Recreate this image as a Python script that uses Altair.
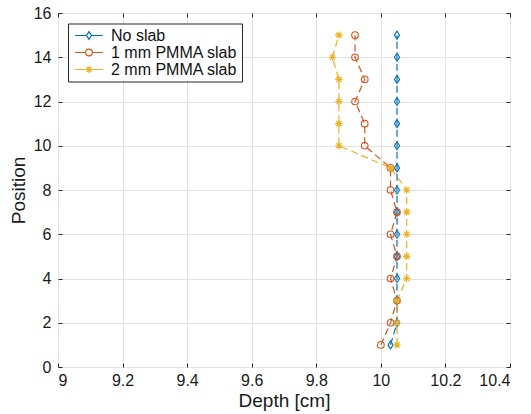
import altair as alt
import pandas as pd

# ---- data ----
positions = list(range(1, 16))
no_slab = [10.03, 10.05, 10.05, 10.05, 10.05, 10.05, 10.05, 10.05,
           10.05, 10.05, 10.05, 10.05, 10.05, 10.05, 10.05]
pmma_1mm = [10.00, 10.03, 10.05, 10.03, 10.05, 10.03, 10.05, 10.03,
            10.03, 9.95, 9.95, 9.92, 9.95, 9.92, 9.92]
pmma_2mm = [10.05, 10.05, 10.05, 10.08, 10.08, 10.08, 10.08, 10.08,
            10.03, 9.87, 9.87, 9.87, 9.87, 9.85, 9.87]
series_names = ["No slab", "1 mm PMMA slab", "2 mm PMMA slab"]
series_values = [no_slab, pmma_1mm, pmma_2mm]
series_colors = ["#0072BD", "#D95319", "#EDB120"]
x_ticks = [9, 9.2, 9.4, 9.6, 9.8, 10, 10.2, 10.4]
y_ticks = [0, 2, 4, 6, 8, 10, 12, 14, 16]

# ---- styles ----
FONT = "Liberation Sans"
W, H = 452, 354
marker_paths = [
    "M0,-1L0.65,0L0,1L-0.65,0Z",
    "circle",
    "M-1,0L1,0M0,-1L0,1M-0.7,-0.7L0.7,0.7M-0.7,0.7L0.7,-0.7",
]
marker_sizes = [64, 44, 56]
# legend symbols: unit = 5 px (symbolSize 100)
legend_paths = [
    "M-2.77,0L-0.55,0M0.55,0L2.77,0M0,-0.76L0.5,0L0,0.76L-0.5,0Z",
    "M-2.77,0L-0.66,0M0.66,0L2.77,0M0.66,0A0.66,0.66 0 1,1 -0.66,0A0.66,0.66 0 1,1 0.66,0Z",
    "M-2.77,0L2.77,0M0,-0.72L0,0.72M-0.5,-0.5L0.5,0.5M-0.5,0.5L0.5,-0.5",
]

rows = []
for name, vals, ms in zip(series_names, series_values, marker_sizes):
    for p, v in zip(positions, vals):
        rows.append({"series": name, "position": p, "depth": v, "msize": ms})
df = pd.DataFrame(rows)

xs = alt.Scale(domain=[9, 10.4], nice=False, zero=False)
ys = alt.Scale(domain=[0, 16], nice=False, zero=False)
color_scale = alt.Scale(domain=series_names, range=series_colors)


def tick_axis(orient, offset, values):
    return alt.Axis(orient=orient, offset=offset, labels=False, grid=False,
                    domain=False, ticks=True, tickSize=4, tickColor="#262626",
                    tickWidth=1, title=None, values=values)


lines = alt.Chart(df).mark_line(strokeDash=[7, 4], strokeWidth=1.2).encode(
    x=alt.X("depth:Q", scale=xs,
            axis=alt.Axis(values=x_ticks, format="~g", grid=True,
                          gridColor="#e3e3e3", ticks=False, domain=False,
                          labelFontSize=16, labelPadding=5, labelColor="#1a1a1a",
                          title="Depth [cm]", titleFontSize=19,
                          titleFontWeight="normal", titlePadding=3,
                          titleColor="#1a1a1a")),
    y=alt.Y("position:Q", scale=ys,
            axis=alt.Axis(values=y_ticks, format="d", grid=True,
                          gridColor="#e3e3e3", ticks=False, domain=False,
                          labelFontSize=16, labelPadding=7, labelColor="#1a1a1a",
                          title="Position", titleFontSize=19,
                          titleFontWeight="normal", titlePadding=5,
                          titleColor="#1a1a1a")),
    color=alt.Color("series:N", scale=color_scale, legend=None),
    order=alt.Order("position:Q"),
)

points = alt.Chart(df).mark_point(filled=False, strokeWidth=1.1, opacity=1).encode(
    x=alt.X("depth:Q", scale=xs, axis=tick_axis("top", -H, x_ticks)),
    y=alt.Y("position:Q", scale=ys, axis=tick_axis("right", -W, y_ticks)),
    color=alt.Color("series:N", scale=color_scale, legend=None),
    shape=alt.Shape("series:N",
                    scale=alt.Scale(domain=series_names, range=marker_paths),
                    legend=None),
    size=alt.Size("msize:Q", scale=None),
)

leg = alt.Legend(orient="none", legendX=10, legendY=10.5, title=None,
                 symbolSize=100, symbolStrokeWidth=1.2, symbolOpacity=1,
                 symbolOffset=9, labelFontSize=16, labelFont=FONT,
                 labelColor="#111111", labelOffset=14, padding=4, rowPadding=1,
                 strokeColor="#262626", fillColor="white", cornerRadius=0)

legend_layer = alt.Chart(df).mark_point(filled=False, opacity=0).encode(
    x=alt.X("depth:Q", scale=xs, axis=tick_axis("bottom", -H, x_ticks)),
    y=alt.Y("position:Q", scale=ys, axis=tick_axis("left", -W, y_ticks)),
    color=alt.Color("series:N", scale=color_scale, legend=leg),
    shape=alt.Shape("series:N",
                    scale=alt.Scale(domain=series_names, range=legend_paths),
                    legend=leg),
)

chart = alt.layer(lines, points, legend_layer).resolve_scale(
    shape="independent"
).resolve_axis(
    x="independent", y="independent"
).resolve_legend(
    color="independent", shape="independent"
).properties(
    width=W, height=H,
    padding={"left": 58, "top": 13, "right": 21, "bottom": 47},
    autosize=alt.AutoSizeParams(type="none"),
    background="white",
).configure(
    font=FONT,
).configure_view(
    stroke="#333333", strokeWidth=1,
)

chart.save("out.html", embed_options={"renderer": "svg", "actions": False})
